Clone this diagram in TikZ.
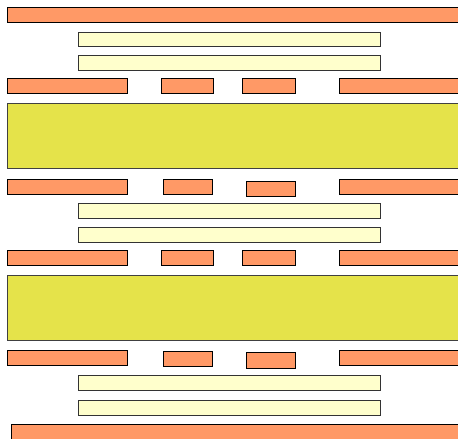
\documentclass[tikz,border=0pt]{standalone}
\usetikzlibrary{shadows}
\definecolor{cu}{RGB}{255,153,102}
\definecolor{pp}{RGB}{255,255,204}
\definecolor{core}{RGB}{229,227,74}
\tikzset{
  shd/.style={drop shadow={shadow xshift=0.8pt,shadow yshift=-0.8pt,fill=black!45,opacity=0.6}},
  cubar/.style={fill=cu,draw=black,line width=0.9pt,shd},
  ppbar/.style={fill=pp,draw=black!80,line width=0.9pt,shd},
  corebar/.style={fill=core,draw=black!75,line width=0.9pt,shd}
}
\begin{document}
\begin{tikzpicture}[x=1pt,y=-1pt]
\useasboundingbox (0,0) rectangle (458,439);
\clip (0,0) rectangle (458,439);
% top copper
\path[cubar] (7,7) rectangle (470,22);
% prepreg
\path[ppbar] (78,32) rectangle (380,46);
\path[ppbar] (78,55) rectangle (380,70);
% row 1
\path[cubar] (7,78) rectangle (127,93);
\path[cubar] (161,78) rectangle (213,93);
\path[cubar] (242,78) rectangle (295,93);
\path[cubar] (339,78) rectangle (470,93);
% core 1
\path[corebar] (7,103) rectangle (470,168);
% row 2
\path[cubar] (7,179) rectangle (127,194);
\path[cubar] (163,179) rectangle (212,194);
\path[cubar] (246,181) rectangle (295,196);
\path[cubar] (339,179) rectangle (470,194);
% prepreg
\path[ppbar] (78,203) rectangle (380,218);
\path[ppbar] (78,227) rectangle (380,242);
% row 3
\path[cubar] (7,250) rectangle (127,265);
\path[cubar] (161,250) rectangle (213,265);
\path[cubar] (242,250) rectangle (295,265);
\path[cubar] (339,250) rectangle (470,265);
% core 2
\path[corebar] (7,275) rectangle (470,340);
% row 4
\path[cubar] (7,350) rectangle (127,365);
\path[cubar] (163,351) rectangle (212,366);
\path[cubar] (246,352) rectangle (295,368);
\path[cubar] (339,350) rectangle (470,365);
% prepreg
\path[ppbar] (78,375) rectangle (380,390);
\path[ppbar] (78,400) rectangle (380,415);
% bottom copper
\path[cubar] (11,424) rectangle (470,450);
\end{tikzpicture}
\end{document}
